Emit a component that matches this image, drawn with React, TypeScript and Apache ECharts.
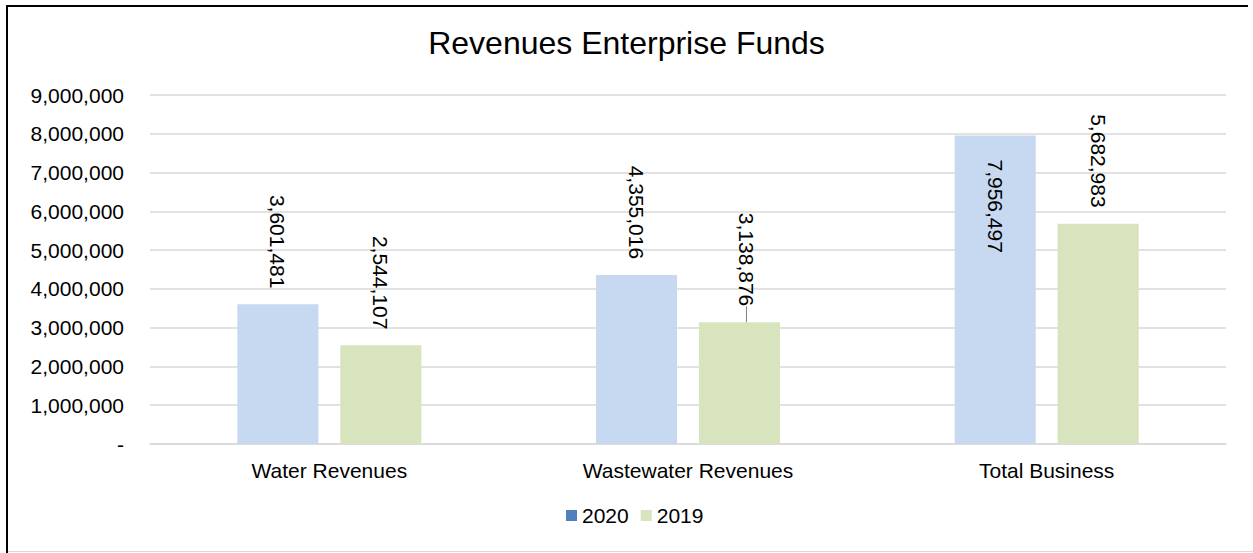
import React, { useEffect, useRef } from "react";
import * as echarts from "echarts";

const categories = ["Water Revenues", "Wastewater Revenues", "Total Business"];
const values2020 = [3601481, 4355016, 7956497];
const values2019 = [2544107, 3138876, 5682983];
const yTicks = { min: 0, max: 9000000, interval: 1000000 };

const FONT = "'Liberation Sans', Arial, sans-serif";

const fmt = (v: number) => (v === 0 ? "-" : Math.round(v).toLocaleString("en-US"));

export default function App() {
  const ref = useRef<HTMLDivElement>(null);
  useEffect(() => {
    if (!ref.current) return;
    const chart = echarts.init(ref.current, undefined, { renderer: "svg" });
    const outsideLabel = {
      show: true,
      position: "top",
      rotate: -90,
      align: "right",
      verticalAlign: "middle",
      distance: 16,
      fontSize: 21,
      fontFamily: FONT,
      color: "#000",
      formatter: (p: any) => fmt(p.value),
    };
    const insideLabel = {
      ...outsideLabel,
      position: "insideTop",
      align: "left",
      distance: 24,
    };
    const max = yTicks.max;
    const mkData = (arr: number[]) =>
      arr.map((v) => (v > max * 0.8 ? { value: v, label: insideLabel } : { value: v }));
    const data2019: any[] = mkData(values2019);
    data2019[1] = {
      value: values2019[1],
      labelLine: { show: true, lineStyle: { color: "#7F7F7F", width: 1 } },
    };
    chart.setOption({
      animation: false,
      backgroundColor: "#fff",
      title: {
        text: "Revenues Enterprise Funds",
        left: "center",
        top: 22,
        textStyle: { fontSize: 32, fontWeight: "normal", fontFamily: FONT, color: "#000" },
      },
      legend: {
        bottom: 22,
        left: 561,
        itemWidth: 11,
        itemHeight: 11,
        itemGap: 12,
        icon: "rect",
        textStyle: { fontSize: 21, fontFamily: FONT, color: "#000" },
        data: [
          { name: "2020", itemStyle: { color: "#4F81BD" } },
          { name: "2019", itemStyle: { color: "#D7E4BD" } },
        ],
      },
      grid: { left: 150, right: 27, top: 95, bottom: 109, containLabel: false },
      xAxis: {
        type: "category",
        data: categories,
        axisLine: { lineStyle: { color: "#D9D9D9", width: 1.5 } },
        axisTick: { show: false },
        axisLabel: { fontSize: 21, fontFamily: FONT, color: "#000", margin: 16 },
      },
      yAxis: {
        type: "value",
        min: yTicks.min,
        max: yTicks.max,
        interval: yTicks.interval,
        axisLine: { show: false },
        axisTick: { show: false },
        splitLine: { lineStyle: { color: "#D9D9D9", width: 1.5 } },
        axisLabel: {
          fontSize: 21,
          fontFamily: FONT,
          color: "#000",
          margin: 26,
          formatter: (v: number) => fmt(v),
        },
      },
      series: [
        {
          name: "2020",
          type: "bar",
          data: mkData(values2020),
          itemStyle: { color: "#C6D9F1" },
          barCategoryGap: "48.7%",
          barGap: "27%",
          label: outsideLabel,
        },
        {
          name: "2019",
          type: "bar",
          data: data2019,
          itemStyle: { color: "#D7E4BD" },
          label: outsideLabel,
          labelLayout: (p: any) => (p.dataIndex === 1 ? { dy: -7 } : {}),
        },
      ],
      graphic: [
        { type: "line", shape: { x1: 6, y1: 6, x2: 1248, y2: 6 }, style: { stroke: "#000", lineWidth: 2 } },
        { type: "line", shape: { x1: 7, y1: 5, x2: 7, y2: 553 }, style: { stroke: "#000", lineWidth: 2 } },
        { type: "line", shape: { x1: 8, y1: 551.5, x2: 1253, y2: 551.5 }, style: { stroke: "#D9D9D9", lineWidth: 1 } },
      ],
    });
    return () => chart.dispose();
  }, []);
  return (
    <div
      ref={ref}
      style={{ position: "fixed", left: 0, top: 0, width: 1253, height: 553, background: "#fff" }}
    />
  );
}
